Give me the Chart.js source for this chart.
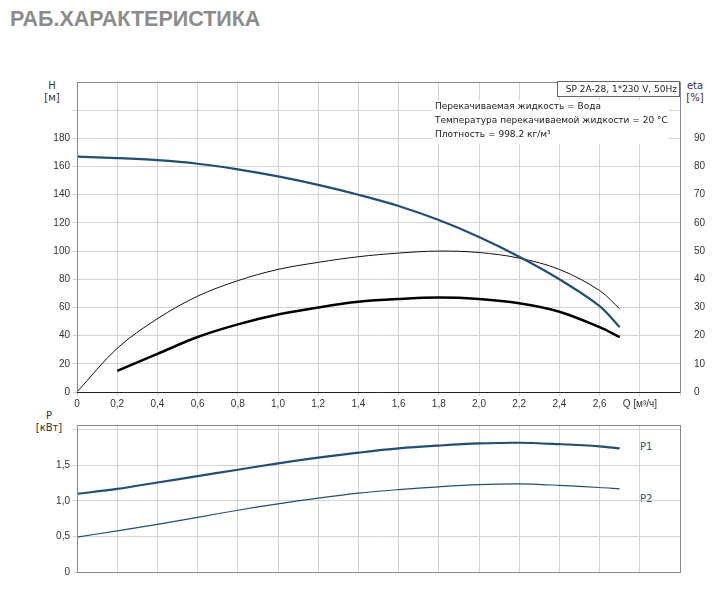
<!DOCTYPE html>
<html>
<head>
<meta charset="utf-8">
<script src="https://cdn.jsdelivr.net/npm/chart.js@4"></script>
<style>
  body { margin: 0; width: 717px; height: 589px; background: #fff; position: relative; font-family: "DejaVu Sans", Arial, sans-serif; overflow: hidden; }
  #title { position: absolute; left: 10px; top: 7px; font: bold 21.5px "Liberation Sans", Arial, sans-serif; color: #8c8c8c; }
  .lbl { position: absolute; font-size: 10px; color: #333; text-align: center; line-height: 12px; }
  #c1 { position: absolute; left: 0; top: 70px; }
  #c2 { position: absolute; left: 0; top: 415px; }
</style>
</head>
<body>
<div id="title">РАБ.ХАРАКТЕРИСТИКА</div>
<div class="lbl" style="left:40px;top:80px;width:24px">H<br>[м]</div>
<div class="lbl" style="left:680px;top:80px;width:30px">eta<br>[%]</div>
<div class="lbl" style="left:34px;top:410px;width:30px">P<br>[кВт]</div>
<div class="lbl" style="left:640px;top:441px;color:#1f4e79">P1</div>
<div class="lbl" style="left:640px;top:493px;color:#1f4e79">P2</div>
<canvas id="c1" width="717" height="345"></canvas>
<canvas id="c2" width="717" height="174"></canvas>
<script>
const q = [0, 0.2, 0.4, 0.6, 0.8, 1.0, 1.2, 1.4, 1.6, 1.8, 2.0, 2.2, 2.4, 2.6, 2.7];
const head = [167, 166, 164.5, 162, 158, 153, 147, 140, 132, 122, 110, 96, 80, 61, 46];
const etaPump = [0, 15.5, 26, 34, 39.5, 43.5, 46, 48, 49.3, 50, 49.5, 47.5, 43.5, 36, 29.5];
const qTotal = [0.2, 0.4, 0.6, 0.8, 1.0, 1.2, 1.4, 1.6, 1.8, 2.0, 2.2, 2.4, 2.6, 2.7];
const etaTotal = [7.5, 13.5, 19.5, 24, 27.5, 30, 32, 33, 33.5, 33, 31.5, 28.5, 23, 19.5];
const p1 = [1.1, 1.17, 1.26, 1.35, 1.44, 1.53, 1.61, 1.68, 1.74, 1.78, 1.81, 1.82, 1.8, 1.77, 1.74];
const p2 = [0.49, 0.58, 0.67, 0.77, 0.87, 0.96, 1.04, 1.11, 1.16, 1.2, 1.23, 1.24, 1.22, 1.19, 1.17];
const qTicks = [0, 0.2, 0.4, 0.6, 0.8, 1.0, 1.2, 1.4, 1.6, 1.8, 2.0, 2.2, 2.4, 2.6, 2.8, 3.0];
const hTicks = [0, 20, 40, 60, 80, 100, 120, 140, 160, 180, 200];
const etaTicks = [0, 10, 20, 30, 40, 50, 60, 70, 80, 90];
const pTicks = [0, 0.5, 1.0, 1.5, 2.0];

const blue = "#1f4e79";
const grid = "#d4d4d4";
const pts = (xs, ys) => xs.map((x, i) => ({ x: x, y: ys[i] }));
const comma = (v, d) => v.toFixed(d).replace(".", ",");
const setTicks = (vals) => (axis) => { axis.ticks = vals.map((v) => ({ value: v })); };

const frame = {
  id: "frame",
  afterDraw(chart) {
    const a = chart.chartArea, c = chart.ctx;
    c.save();
    c.strokeStyle = "#888";
    c.lineWidth = 1;
    c.strokeRect(a.left + 0.5, a.top + 0.5, a.right - a.left, a.bottom - a.top);
    if (chart.canvas.id === "c1") {
      c.strokeStyle = "#222";
      c.beginPath(); c.moveTo(a.left, a.bottom + 0.5); c.lineTo(a.right, a.bottom + 0.5); c.stroke();
      c.font = "9px 'DejaVu Sans', Arial";
      c.fillStyle = "#fff";
      c.fillRect(a.right - 122, a.top - 1, 121, 15);
      c.strokeStyle = "#666";
      c.strokeRect(a.right - 122.5, a.top - 0.5, 122, 15);
      c.fillStyle = "#222";
      c.textAlign = "right";
      c.fillText("SP 2A-28, 1*230 V, 50Hz", a.right - 3, a.top + 10);
      c.textAlign = "left";
      c.fillStyle = "#fff";
      c.fillRect(a.left + 356, a.top + 18, 236, 44);
      c.fillStyle = "#222";
      c.fillText("Перекачиваемая жидкость = Вода", a.left + 358, a.top + 27);
      c.fillText("Температура перекачиваемой жидкости = 20 °C", a.left + 358, a.top + 41);
      c.fillText("Плотность = 998.2 кг/м³", a.left + 358, a.top + 55);
    }
    c.restore();
  },
};

const xScale = (showLabels) => ({
  type: "linear", min: 0, max: 3.0,
  afterBuildTicks: setTicks(qTicks),
  afterFit: (s) => { s.height = showLabels ? 23 : 17; },
  grid: { color: grid, drawTicks: showLabels, tickLength: 4 },
  border: { display: false },
  ticks: {
    display: showLabels, color: "#333", font: { size: 10 }, maxRotation: 0, autoSkip: false, padding: 2,
    callback: (v) => Math.abs(v - 2.8) < 0.01 ? "Q [м³/ч]" : v > 2.7 ? "" : v === 0 ? "0" : comma(v, 1),
  },
});

new Chart(document.getElementById("c1"), {
  type: "line",
  data: {
    datasets: [
      { data: pts(q, head), yAxisID: "y", borderColor: blue, borderWidth: 2.2 },
      { data: pts(q, etaPump), yAxisID: "y2", borderColor: "#111", borderWidth: 1 },
      { data: pts(qTotal, etaTotal), yAxisID: "y2", borderColor: "#000", borderWidth: 2.5 },
    ],
  },
  options: {
    responsive: false, animation: false,
    layout: { padding: { top: 12, left: 0, right: 0, bottom: 0 } },
    elements: { point: { radius: 0 }, line: { tension: 0.35 } },
    plugins: { legend: { display: false }, tooltip: { enabled: false } },
    scales: {
      x: xScale(true),
      y: {
        min: 0, max: 220, position: "left",
        afterBuildTicks: setTicks(hTicks),
        afterFit: (s) => { s.width = 77; },
        grid: { color: grid, tickLength: 4 },
        border: { display: false },
        ticks: { color: "#333", font: { size: 10 }, padding: 3, callback: (v) => v > 190 ? "" : String(v) },
      },
      y2: {
        min: 0, max: 110, position: "right",
        afterBuildTicks: setTicks(etaTicks),
        afterFit: (s) => { s.width = 37; },
        grid: { display: false },
        border: { display: false },
        ticks: { color: "#333", font: { size: 10 }, padding: 6 },
      },
    },
  },
  plugins: [frame],
});

new Chart(document.getElementById("c2"), {
  type: "line",
  data: {
    datasets: [
      { data: pts(q, p1), borderColor: blue, borderWidth: 2.2 },
      { data: pts(q, p2), borderColor: blue, borderWidth: 1.2 },
    ],
  },
  options: {
    responsive: false, animation: false,
    layout: { padding: { top: 10, left: 0, right: 37, bottom: 0 } },
    elements: { point: { radius: 0 }, line: { tension: 0.35 } },
    plugins: { legend: { display: false }, tooltip: { enabled: false } },
    scales: {
      x: xScale(false),
      y: {
        min: 0, max: 2.07,
        afterBuildTicks: setTicks(pTicks),
        afterFit: (s) => { s.width = 77; },
        grid: { color: grid, tickLength: 4 },
        border: { display: false },
        ticks: { color: "#333", font: { size: 10 }, padding: 3, callback: (v) => v === 0 ? "0" : v > 1.9 ? "" : comma(v, 1) },
      },
    },
  },
  plugins: [frame],
});
</script>
</body>
</html>
